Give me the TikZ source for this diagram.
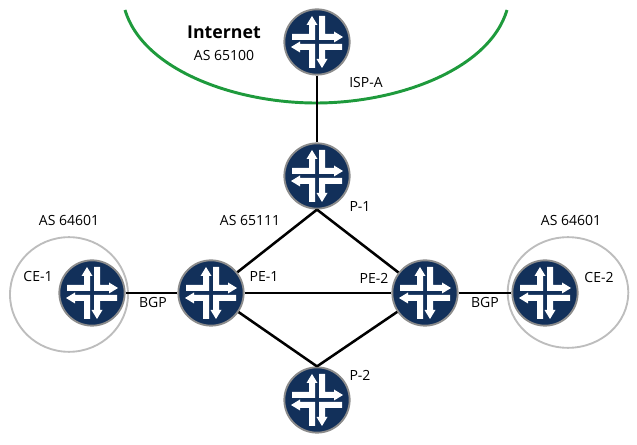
\documentclass[tikz,border=0pt]{standalone}
\usepackage{fontspec}
\setmainfont{Open Sans}
\usetikzlibrary{arrows.meta,positioning,shapes.geometric}
\definecolor{routerblue}{HTML}{12305A}
\definecolor{rimgray}{HTML}{8C8C8C}
\definecolor{ringgray}{HTML}{BDBDBD}
\definecolor{cloudgreen}{HTML}{1E9A3C}
\newcommand{\routerglyph}{%
  \begin{scope}[shift={(path picture bounding box.center)}, x=0.75pt, y=-0.75pt]
    \fill[white] (-2,-2) -- (-2,-17) -- (0.5,-17) -- (-5,-26) -- (-10.5,-17) -- (-8,-17) -- (-8,-8) -- (-25,-8) -- (-25,-2) -- cycle;
    \fill[white] (2,-26) -- (8,-26) -- (8,-8) -- (17,-8) -- (17,-10.5) -- (26,-5) -- (17,0.5) -- (17,-2) -- (2,-2) -- cycle;
    \fill[white] (-2,2) -- (-17,2) -- (-17,-0.5) -- (-26,5) -- (-17,10.5) -- (-17,8) -- (-8,8) -- (-8,26) -- (-2,26) -- cycle;
    \fill[white] (2,2) -- (25,2) -- (25,8) -- (8,8) -- (8,17) -- (10.5,17) -- (5,26) -- (-0.5,17) -- (2,17) -- cycle;
  \end{scope}}
\tikzset{
  router/.style={circle, draw=rimgray, line width=1.4pt, fill=routerblue, minimum size=49pt, inner sep=0pt, path picture={\routerglyph}},
  link/.style={line width=1.9pt, black},
  ring/.style={ellipse, draw=ringgray, line width=1.4pt, inner sep=0pt},
  lbl/.style={font=\fontsize{10.5pt}{12pt}\selectfont, inner sep=0pt}
}
\begin{document}
\begin{tikzpicture}[x=0.75pt, y=-0.75pt]
        \useasboundingbox (0,0) rectangle (637,445);

        % internet boundary
        \coordinate (cloudL) at (125,10);
        \coordinate (cloudB) at (316,103);
        \coordinate (cloudR) at (507,10);
        \draw[cloudgreen, line width=2.2pt] (cloudL) .. controls (143,70) and (235,103) .. (cloudB) .. controls (397,103) and (489,70) .. (cloudR);

        % customer sites
        \node[ring, minimum width=88.5pt, minimum height=86pt] (site1) at (69,294.5) {};
        \node[ring, minimum width=90.5pt, minimum height=83pt] (site2) at (568,292.5) {};

        % routers
        \node[router] (ISPA) at (317,42) {};
        \node[router] (P1) at (317,176) {};
        \node[router] (PE1) at (211,293) {};
        \node[router] (PE2) at (425,293) {};
        \node[router] (P2) at (317,400) {};
        \node[router] (CE1) at (92,293) {};
        \node[router] (CE2) at (545,293) {};

        % links
        \draw[link] (ISPA) -- (P1);
        \draw[link] (P1.south) -- (PE1);
        \draw[link] (P1.south) -- (PE2);
        \draw[link] (PE1) -- (PE2);
        \draw[link] (PE1) -- (P2.north);
        \draw[link] (PE2) -- (P2.north);
        \draw[link] (CE1) -- (PE1);
        \draw[link] (PE2) -- (CE2);

        % labels
        \node[font=\fontsize{13.3pt}{15pt}\selectfont\bfseries, inner sep=0pt] (inet) at (224,32) {Internet};
        \node[lbl] (as65100) at (224,55) {AS 65100};
        \node[lbl] (ispalbl) at (366,83) {ISP-A};
        \node[lbl] (p1lbl) at (360,207) {P-1};
        \node[lbl] (as65111) at (250,221) {AS 65111};
        \node[lbl] (pe1lbl) at (264,277) {PE-1};
        \node[lbl] (pe2lbl) at (374,278) {PE-2};
        \node[lbl] (p2lbl) at (360,375) {P-2};
        \node[lbl] (as1) at (69,220) {AS 64601};
        \node[lbl] (as2) at (571,220) {AS 64601};
        \node[lbl] (ce1lbl) at (38,277) {CE-1};
        \node[lbl] (ce2lbl) at (599,278) {CE-2};
        \node[lbl] (bgp1) at (153,303) {BGP};
        \node[lbl] (bgp2) at (485,303) {BGP};
\end{tikzpicture}
\end{document}
